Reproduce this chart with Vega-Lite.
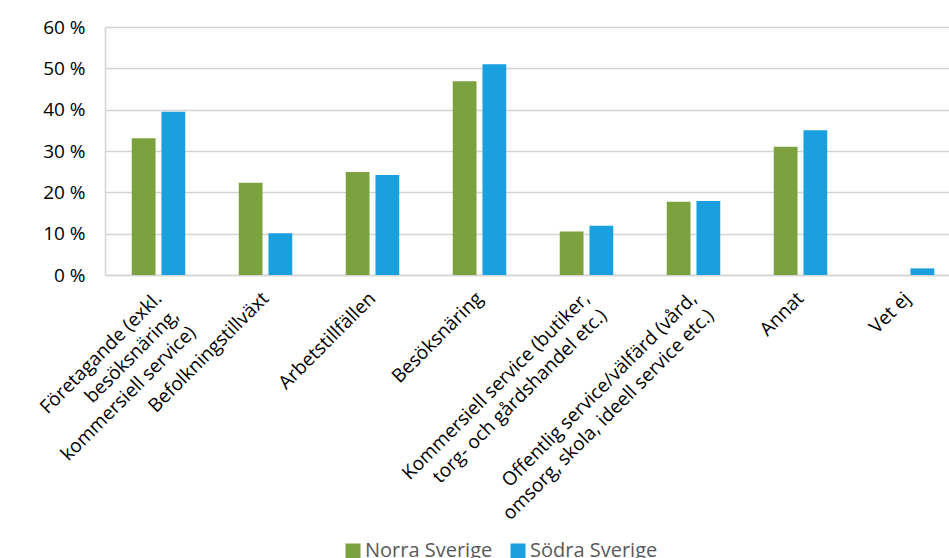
{
  "$schema": "https://vega.github.io/schema/vega-lite/v6.json",
  "width": 844,
  "height": 248,
  "autosize": {"type": "none"},
  "padding": {"left": 105, "top": 27, "right": 0, "bottom": 283},
  "background": "white",
  "config": {"view": {"stroke": null}},
  "data": {
    "values": [
      {"kategori": "Företagande (exkl.|besöksnäring,|kommersiell service)", "region": "Norra Sverige", "andel": 33.1},
      {"kategori": "Företagande (exkl.|besöksnäring,|kommersiell service)", "region": "Södra Sverige", "andel": 39.5},
      {"kategori": "Befolkningstillväxt", "region": "Norra Sverige", "andel": 22.3},
      {"kategori": "Befolkningstillväxt", "region": "Södra Sverige", "andel": 10.1},
      {"kategori": "Arbetstillfällen", "region": "Norra Sverige", "andel": 24.9},
      {"kategori": "Arbetstillfällen", "region": "Södra Sverige", "andel": 24.2},
      {"kategori": "Besöksnäring", "region": "Norra Sverige", "andel": 46.9},
      {"kategori": "Besöksnäring", "region": "Södra Sverige", "andel": 51.0},
      {"kategori": "Kommersiell service (butiker,|torg- och gårdshandel etc.)", "region": "Norra Sverige", "andel": 10.5},
      {"kategori": "Kommersiell service (butiker,|torg- och gårdshandel etc.)", "region": "Södra Sverige", "andel": 11.9},
      {"kategori": "Offentlig service/välfärd  (vård,|omsorg, skola, ideell service etc.)", "region": "Norra Sverige", "andel": 17.7},
      {"kategori": "Offentlig service/välfärd  (vård,|omsorg, skola, ideell service etc.)", "region": "Södra Sverige", "andel": 17.9},
      {"kategori": "Annat", "region": "Norra Sverige", "andel": 31.0},
      {"kategori": "Annat", "region": "Södra Sverige", "andel": 35.0},
      {"kategori": "Vet ej", "region": "Norra Sverige", "andel": 0},
      {"kategori": "Vet ej", "region": "Södra Sverige", "andel": 1.6}
    ]
  },
  "mark": {"type": "bar"},
  "encoding": {
    "x": {
      "field": "kategori",
      "type": "nominal",
      "sort": null,
      "scale": {"paddingInner": 0.5, "paddingOuter": 0.25, "range": [0, 856]},
      "axis": {
        "title": null,
        "labelAngle": -45,
        "labelAlign": "right",
        "labelBaseline": "middle",
        "labelExpr": "split(datum.label, '|')",
        "labelFont": "Open Sans",
        "labelFontSize": 19,
        "labelColor": "#000000",
        "labelPadding": 20,
        "labelLimit": 0,
        "labelLineHeight": 24,
        "ticks": false,
        "domainColor": "#D4D4D4",
        "domainWidth": 1.5
      }
    },
    "xOffset": {
      "field": "region",
      "sort": ["Norra Sverige", "Södra Sverige"],
      "scale": {"paddingInner": 0.2}
    },
    "y": {
      "field": "andel",
      "type": "quantitative",
      "scale": {"domain": [0, 60]},
      "axis": {
        "title": null,
        "values": [0, 10, 20, 30, 40, 50, 60],
        "labelExpr": "datum.value + ' %'",
        "labelFont": "Open Sans",
        "labelFontSize": 19,
        "labelColor": "#000000",
        "labelPadding": 20,
        "ticks": false,
        "gridColor": "#D4D4D4",
        "gridWidth": 1.5,
        "domainColor": "#D4D4D4",
        "domainWidth": 1.5
      }
    },
    "color": {
      "field": "region",
      "type": "nominal",
      "scale": {"domain": ["Norra Sverige", "Södra Sverige"], "range": ["#7BA23F", "#1A9FDF"]},
      "legend": {
        "title": null,
        "orient": "none",
        "direction": "horizontal",
        "legendX": 238,
        "legendY": 514,
        "symbolType": "square",
        "symbolSize": 225,
        "symbolStrokeWidth": 0,
        "symbolOpacity": 1,
        "labelFont": "Open Sans",
        "labelFontSize": 20,
        "labelColor": "#595959",
        "labelOffset": 2,
        "columnPadding": 15
      }
    }
  }
}
